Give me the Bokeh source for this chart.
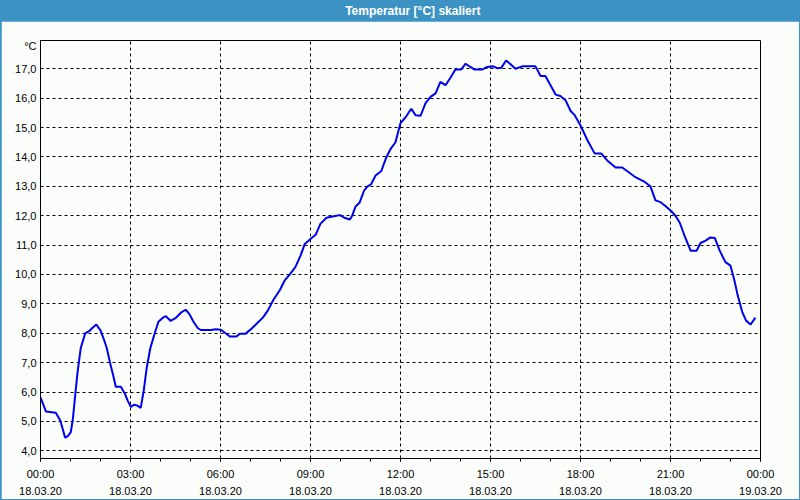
from bokeh.plotting import figure
from bokeh.models import Range1d, FixedTicker, ColumnDataSource
from bokeh.layouts import column
from bokeh.core.properties import value
from bokeh.embed import file_html
from bokeh.resources import INLINE

# ---- data (hours since 18.03.20 00:00, temperature in °C) ----
hours = [0.0, 0.18, 0.51, 0.66, 0.82, 0.91, 1.01, 1.08, 1.16, 1.24, 1.34, 1.49, 1.62, 1.71, 1.86,
         2.0, 2.1, 2.21, 2.32, 2.43, 2.51, 2.68, 2.82, 2.91, 3.01, 3.13, 3.23, 3.34, 3.44, 3.54,
         3.66, 3.79, 3.93, 4.07, 4.18, 4.34, 4.51, 4.68, 4.84, 4.96, 5.1, 5.24, 5.34, 5.68, 5.84,
         6.01, 6.16, 6.31, 6.53, 6.64, 6.83, 7.06, 7.22, 7.42, 7.58, 7.76, 7.98, 8.13, 8.33, 8.5,
         8.67, 8.81, 9.0, 9.17, 9.33, 9.53, 9.78, 9.98, 10.13, 10.31, 10.39, 10.5, 10.64, 10.78,
         10.89, 11.02, 11.17, 11.36, 11.52, 11.67, 11.83, 12.0, 12.17, 12.36, 12.5, 12.67, 12.83,
         13.0, 13.17, 13.33, 13.5, 13.67, 13.83, 14.02, 14.17, 14.33, 14.47, 14.72, 14.89, 15.09,
         15.22, 15.36, 15.52, 15.67, 15.83, 16.06, 16.5, 16.67, 16.83, 17.0, 17.17, 17.33, 17.5,
         17.67, 17.8, 18.0, 18.24, 18.47, 18.69, 18.89, 19.17, 19.39, 19.61, 19.83, 20.11, 20.33,
         20.5, 20.67, 20.83, 21.02, 21.17, 21.31, 21.47, 21.67, 21.87, 22.0, 22.17, 22.33, 22.48,
         22.64, 22.83, 23.0, 23.13, 23.24, 23.39, 23.52, 23.67, 23.83]
temps = [5.82, 5.34, 5.3, 5.03, 4.45, 4.5, 4.64, 5.09, 5.93, 6.71, 7.49, 8.0, 8.07, 8.16, 8.3,
         8.1, 7.83, 7.49, 6.99, 6.54, 6.18, 6.18, 5.93, 5.7, 5.5, 5.57, 5.54, 5.46, 6.04, 6.82,
         7.49, 7.94, 8.39, 8.52, 8.58, 8.42, 8.52, 8.7, 8.8, 8.66, 8.39, 8.18, 8.11, 8.11, 8.14,
         8.12, 8.01, 7.89, 7.89, 7.98, 7.98, 8.18, 8.34, 8.54, 8.78, 9.13, 9.47, 9.78, 10.03, 10.26,
         10.65, 11.04, 11.21, 11.35, 11.72, 11.93, 11.98, 12.02, 11.93, 11.87, 12.0, 12.31, 12.45,
         12.84, 12.99, 13.07, 13.37, 13.52, 13.97, 14.27, 14.49, 15.15, 15.35, 15.64, 15.42, 15.4,
         15.82, 16.04, 16.16, 16.55, 16.44, 16.7, 16.97, 16.97, 17.17, 17.06, 16.97, 16.97, 17.06,
         17.08, 17.02, 17.03, 17.28, 17.15, 17.0, 17.08, 17.08, 16.75, 16.75, 16.44, 16.12, 16.07,
         15.93, 15.56, 15.43, 15.07, 14.55, 14.12, 14.12, 13.88, 13.64, 13.64, 13.48, 13.31, 13.17,
         13.0, 12.52, 12.46, 12.33, 12.16, 11.99, 11.76, 11.31, 10.81, 10.81, 11.07, 11.15, 11.26,
         11.24, 10.81, 10.42, 10.3, 9.8, 9.29, 8.73, 8.43, 8.3, 8.53]

x_ticks = [0, 3, 6, 9, 12, 15, 18, 21, 24]
x_tick_labels = ["00:00\n18.03.20", "03:00\n18.03.20", "06:00\n18.03.20", "09:00\n18.03.20",
                 "12:00\n18.03.20", "15:00\n18.03.20", "18:00\n18.03.20", "21:00\n18.03.20",
                 "00:00\n19.03.20"]
y_ticks = [4, 5, 6, 7, 8, 9, 10, 11, 12, 13, 14, 15, 16, 17]
y_tick_labels = ["4,0", "5,0", "6,0", "7,0", "8,0", "9,0", "10,0", "11,0", "12,0", "13,0",
                 "14,0", "15,0", "16,0", "17,0"]
unit_pos = 17.78
unit_text = "°C"
title_text = "Temperatur [°C] skaliert"

BLUE_BAR = "#3d92c4"
BG = "#fbfdfb"
FONT = "Liberation Sans"

# ---- title bar ----
top = figure(width=800, height=21, x_range=Range1d(0, 1), y_range=Range1d(0, 1),
             output_backend="svg", toolbar_location=None, min_border=0)
top.axis.visible = False
top.grid.visible = False
top.outline_line_color = None
top.background_fill_color = BLUE_BAR
top.border_fill_color = BLUE_BAR
top.text(x=[0.517], y=[0.5], text=[title_text], text_color="white",
         text_font=value(FONT), text_font_style="bold", text_font_size="12px",
         text_align="center", text_baseline="middle")

# ---- main chart ----
p = figure(width=798, height=478, output_backend="svg", toolbar_location=None,
           x_range=Range1d(0, 24), y_range=Range1d(3.74, 17.96),
           min_border_left=39, min_border_right=39, min_border_top=19, min_border_bottom=38)
p.margin = (0, 1, 1, 1)
p.background_fill_color = BG
p.border_fill_color = BG
p.outline_line_color = "black"
p.outline_line_width = 1

src = ColumnDataSource(dict(h=hours, t=temps))
p.line("h", "t", source=src, line_color="#0000f0", line_width=2)

xa = p.xaxis[0]
xa.ticker = FixedTicker(ticks=x_ticks, minor_ticks=list(range(25)))
xa.major_label_overrides = {t: l for t, l in zip(x_ticks, x_tick_labels)}
xa.major_tick_out = 3
xa.major_tick_in = 0
xa.minor_tick_out = 3
xa.minor_tick_in = 0
xa.major_label_standoff = 6
xa.major_label_text_font = FONT
xa.major_label_text_font_size = "11px"
xa.major_label_text_color = "black"
xa.major_label_text_line_height = 1.45
xa.axis_line_color = "black"
xa.major_tick_line_color = "black"
xa.minor_tick_line_color = "black"

ya = p.yaxis[0]
ya.ticker = FixedTicker(ticks=y_ticks + [unit_pos], minor_ticks=[])
overrides = {t: l for t, l in zip(y_ticks, y_tick_labels)}
overrides[unit_pos] = unit_text
ya.major_label_overrides = overrides
ya.major_tick_out = 0
ya.major_tick_in = 0
ya.minor_tick_out = 0
ya.major_label_standoff = 4
ya.major_label_text_font = FONT
ya.major_label_text_font_size = "11px"
ya.major_label_text_color = "black"
ya.axis_line_color = "black"

p.xgrid.ticker = FixedTicker(ticks=x_ticks)
p.ygrid.ticker = FixedTicker(ticks=y_ticks)
for g in (p.xgrid[0], p.ygrid[0]):
    g.grid_line_color = "black"
    g.grid_line_dash = "3 3"
    g.grid_line_width = 1
    g.grid_line_alpha = 1.0

layout = column(top, p, spacing=0, styles={"background-color": BLUE_BAR})
open("out.html", "w").write(file_html(layout, INLINE))
